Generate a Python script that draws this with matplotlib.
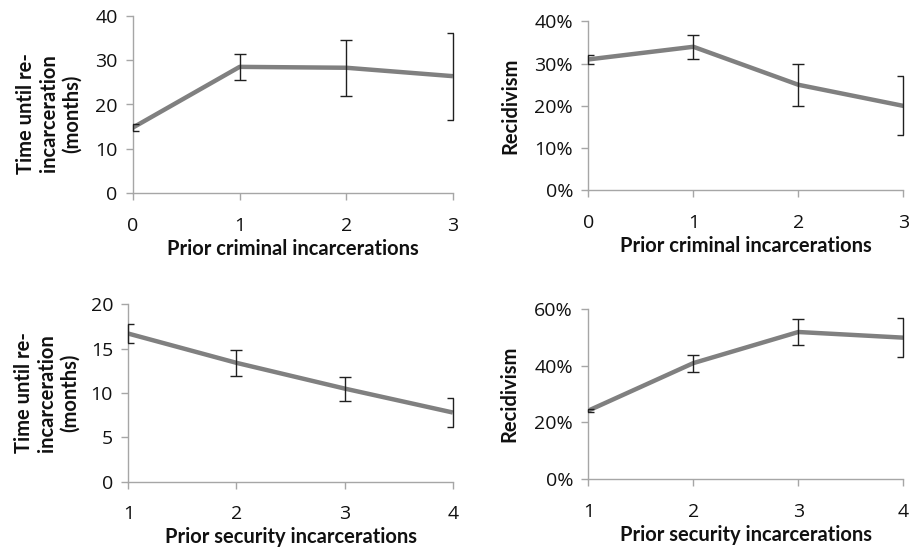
import numpy as np
import matplotlib
matplotlib.use("Agg")
import matplotlib.pyplot as plt
from matplotlib.ticker import PercentFormatter

plt.rcParams['font.family'] = ['Open Sans', 'DejaVu Sans']

# data
crim_x = [0, 1, 2, 3]
crim_time = [14.8, 28.5, 28.3, 26.4]
crim_time_err = [0.8, 2.9, 6.3, 9.8]
crim_recid = [31.0, 34.0, 25.0, 20.0]
crim_recid_err = [1.0, 2.9, 5.0, 7.0]

sec_x = [1, 2, 3, 4]
sec_time = [16.7, 13.4, 10.5, 7.8]
sec_time_err = [1.05, 1.5, 1.35, 1.6]
sec_recid = [24.2, 41.0, 52.0, 50.0]
sec_recid_err = [0.6, 3.0, 4.7, 7.0]

time_label = 'Time until re-\nincarceration\n(months)'
recid_label = 'Recidivism'

line_col = '#808080'
spine_col = '#a6a6a6'
label_font = ['Lato', 'DejaVu Sans']


def draw(ax, x, y, err, ylim, yticks, xlabel, ylabel, ylab_xy, pct=False):
  eb = ax.errorbar(x, y, yerr=err, fmt='none', ecolor='#202020', elinewidth=1.0,
                   capsize=4.5, capthick=1.0, zorder=3)
  # vertical bars are not clipped at the edges, the caps are
  for c in eb[2]:
    c.set_clip_on(False)
  ax.plot(x, y, color=line_col, lw=3.2, zorder=2, solid_capstyle='butt')
  ax.set_xlim(x[0], x[-1])
  ax.set_ylim(*ylim)
  ax.set_xticks(x)
  ax.set_yticks(yticks)
  if pct:
    ax.yaxis.set_major_formatter(PercentFormatter(decimals=0))
  for s in ['top', 'right']:
    ax.spines[s].set_visible(False)
  for s in ['left', 'bottom']:
    ax.spines[s].set_color(spine_col)
    ax.spines[s].set_linewidth(1.0)
  ax.tick_params(direction='out', length=5, width=1.0, color=spine_col,
                 labelsize=14, labelcolor='#111111')
  ax.tick_params(axis='x', pad=12)
  ax.tick_params(axis='y', pad=6)
  ax.set_xlabel(xlabel, fontsize=14.5, fontweight='bold', labelpad=3,
                family=label_font, color='#111111')
  ax.set_ylabel(ylabel, fontsize=14.5, fontweight='bold', linespacing=1.2,
                family=label_font, color='#111111')
  # label anchor is the right edge of the rotated text
  ax.yaxis.set_label_coords(*ylab_xy)


fig = plt.figure(figsize=(9.14, 5.5), dpi=100)

ax1 = fig.add_axes([0.1455, 0.649, 0.350, 0.322])
draw(ax1, crim_x, crim_time, crim_time_err, (0, 40), [0, 10, 20, 30, 40],
     'Prior criminal incarcerations', time_label, (-0.159, 0.45))

ax2 = fig.add_axes([0.6437, 0.654, 0.3446, 0.307])
draw(ax2, crim_x, crim_recid, crim_recid_err, (0, 40), [0, 10, 20, 30, 40],
     'Prior criminal incarcerations', recid_label, (-0.217, 0.5), pct=True)

ax3 = fig.add_axes([0.1404, 0.1242, 0.355, 0.3225])
draw(ax3, sec_x, sec_time, sec_time_err, (0, 20), [0, 5, 10, 15, 20],
     'Prior security incarcerations', time_label, (-0.149, 0.5))

ax4 = fig.add_axes([0.6437, 0.129, 0.3446, 0.3085])
draw(ax4, sec_x, sec_recid, sec_recid_err, (0, 60), [0, 20, 40, 60],
     'Prior security incarcerations', recid_label, (-0.220, 0.5), pct=True)

fig.savefig('out.png', dpi=100)
